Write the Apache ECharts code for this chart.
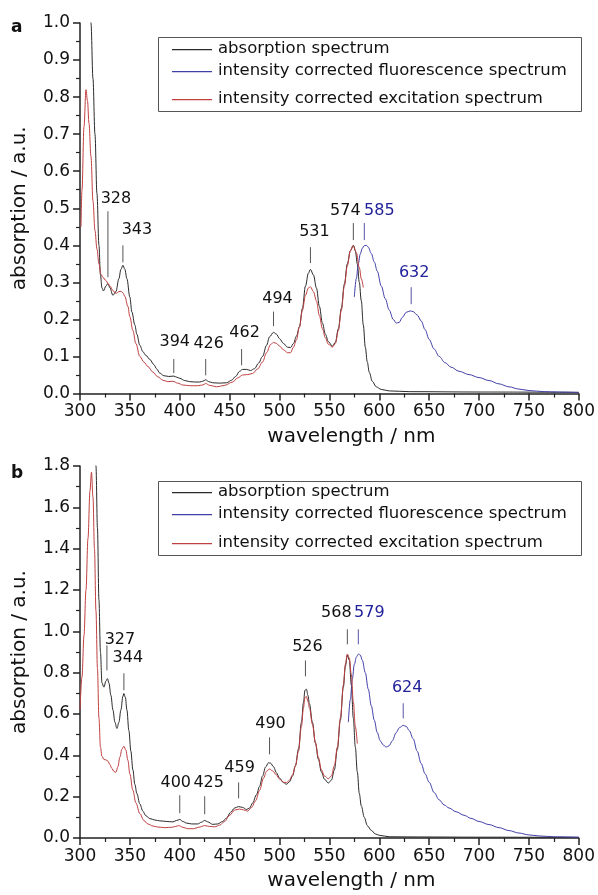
<!DOCTYPE html>
<html><head><meta charset="utf-8">
<script src="https://cdn.jsdelivr.net/npm/echarts@6/dist/echarts.min.js"></script>
<style>html,body{margin:0;padding:0;background:#fff}#c{width:598px;height:895px}</style>
</head><body><div id="c"></div><script>
// ---------- DATA ----------
const seriesNames = ['absorption spectrum', 'intensity corrected fluorescence spectrum', 'intensity corrected excitation spectrum'];
const xTicksMin = 300, xTicksMax = 800;

// Panel a
const absorptionA = [[310,1.15],[311,1.0],[313,0.85],[315,0.70],[317,0.54],[319,0.40],[320.5,0.32],[322,0.285],[323.5,0.277],[326,0.29],[328,0.297],[330,0.285],[333,0.265],[336,0.275],[339,0.31],[341,0.335],[343,0.346],[345,0.335],[347,0.31],[350,0.26],[352,0.22],[355,0.185],[357,0.16],[360,0.13],[363,0.113],[366,0.103],[370,0.092],[374,0.078],[377,0.066],[380,0.055],[384,0.048],[389,0.046],[394,0.047],[397,0.044],[400,0.041],[405,0.035],[410,0.032],[415,0.031],[420,0.031],[423,0.033],[426,0.037],[429,0.032],[433,0.029],[440,0.028],[447,0.029],[452,0.036],[456,0.046],[460,0.06],[463,0.065],[467,0.065],[471,0.062],[475,0.067],[479,0.082],[483,0.10],[487,0.13],[490,0.153],[494,0.165],[497,0.16],[500,0.148],[504,0.135],[508,0.125],[511,0.124],[514,0.135],[517,0.155],[520,0.18],[523,0.23],[526,0.29],[529,0.325],[531,0.335],[534,0.32],[537,0.285],[540,0.235],[543,0.19],[546,0.16],[549,0.14],[553,0.128],[556,0.138],[559,0.175],[562,0.23],[565,0.295],[568,0.35],[571,0.385],[574,0.40],[576,0.385],[578,0.35],[580,0.30],[582,0.25],[584,0.185],[586,0.125],[588,0.085],[590,0.057],[593,0.033],[597,0.018],[602,0.011],[610,0.007],[630,0.005],[700,0.004],[800,0.003]];
const fluorescenceA = [[575,0.26],[577,0.31],[579,0.35],[581,0.377],[583,0.392],[585,0.399],[587,0.40],[589,0.395],[592,0.378],[595,0.355],[598,0.33],[602,0.29],[606,0.256],[610,0.225],[614,0.2],[617,0.19],[620,0.192],[623,0.205],[627,0.219],[631,0.223],[634,0.221],[638,0.212],[642,0.196],[646,0.172],[650,0.146],[655,0.12],[660,0.1],[666,0.083],[672,0.071],[680,0.06],[690,0.051],[700,0.043],[710,0.035],[720,0.026],[730,0.018],[740,0.012],[750,0.008],[765,0.005],[780,0.004],[800,0.003]];
const excitationA = [[301,0.45],[302,0.55],[304,0.72],[306,0.82],[307.5,0.79],[309,0.73],[311,0.64],[313,0.52],[315,0.44],[317,0.39],[319,0.35],[321,0.322],[323,0.313],[326,0.305],[328,0.297],[330,0.29],[333,0.278],[336,0.27],[339,0.275],[341,0.276],[343,0.272],[345,0.262],[348,0.235],[350,0.207],[353,0.17],[356,0.135],[360,0.1],[364,0.085],[368,0.073],[373,0.058],[378,0.045],[383,0.036],[388,0.032],[393,0.033],[398,0.028],[403,0.023],[410,0.021],[418,0.021],[423,0.023],[426,0.027],[430,0.022],[437,0.018],[445,0.022],[453,0.031],[458,0.042],[463,0.05],[468,0.051],[473,0.054],[478,0.066],[483,0.085],[487,0.11],[491,0.132],[494,0.138],[497,0.135],[500,0.128],[504,0.118],[508,0.11],[511,0.11],[514,0.125],[517,0.145],[520,0.18],[523,0.225],[526,0.265],[529,0.285],[531,0.288],[534,0.275],[537,0.25],[540,0.21],[543,0.175],[546,0.15],[549,0.133],[553,0.125],[556,0.135],[559,0.17],[562,0.225],[565,0.29],[568,0.345],[571,0.385],[574,0.40],[577,0.38],[580,0.34],[582,0.31],[584,0.286]];
const peaksA = [328, 343, 394, 426, 462, 494, 531, 574, 585, 632];
const peakKindA = ['a','a','a','a','a','a','a','a','f','f'];
const tickLowA = [0.314, 0.354, 0.055, 0.049, 0.076, 0.182, 0.352, 0.414, 0.414, 0.241];
const tickHighA = [0.492, 0.400, 0.093, 0.093, 0.120, 0.221, 0.395, 0.460, 0.460, 0.287];

// Panel b
const absorptionB = [[315,1.95],[316,1.8],[317.5,1.5],[319,1.15],[320.5,0.9],[322,0.75],[324,0.73],[326,0.76],[327.5,0.771],[329,0.75],[331,0.69],[333,0.62],[335,0.56],[337,0.53],[339,0.56],[341,0.62],[343,0.685],[344,0.699],[345.5,0.68],[347,0.62],[349,0.52],[351,0.42],[353,0.33],[355,0.26],[357,0.215],[360,0.165],[363,0.13],[366,0.108],[370,0.094],[375,0.087],[380,0.083],[387,0.08],[393,0.078],[397,0.085],[400,0.09],[403,0.08],[407,0.072],[412,0.068],[418,0.068],[422,0.077],[425,0.085],[428,0.078],[433,0.066],[438,0.068],[443,0.08],[447,0.097],[451,0.125],[455,0.145],[459,0.152],[463,0.148],[467,0.138],[470,0.145],[473,0.169],[477,0.21],[480,0.25],[483,0.3],[486,0.343],[489,0.364],[491,0.362],[494,0.345],[497,0.315],[500,0.29],[504,0.268],[507,0.26],[510,0.272],[513,0.3],[516,0.35],[519,0.43],[522,0.56],[524,0.655],[525.5,0.715],[527,0.72],[528.5,0.69],[530,0.65],[533,0.56],[536,0.46],[539,0.38],[542,0.32],[545,0.285],[549,0.266],[552,0.28],[555,0.33],[558,0.43],[561,0.57],[564,0.73],[566,0.83],[568,0.885],[570,0.86],[572,0.74],[574,0.58],[576,0.44],[578,0.32],[580,0.215],[582,0.155],[585,0.1],[588,0.06],[592,0.037],[596,0.02],[600,0.013],[610,0.006],[640,0.005],[700,0.004],[800,0.003]];
const fluorescenceB = [[569,0.56],[571,0.67],[573,0.77],[575,0.84],[577,0.875],[579,0.89],[581,0.885],[583,0.86],[586,0.8],[589,0.72],[592,0.64],[595,0.57],[598,0.51],[601,0.47],[604,0.45],[607,0.44],[610,0.447],[613,0.47],[617,0.51],[620,0.533],[624,0.545],[627,0.54],[630,0.52],[634,0.48],[638,0.42],[642,0.36],[646,0.31],[650,0.27],[655,0.22],[660,0.185],[665,0.16],[670,0.145],[677,0.127],[685,0.11],[692,0.095],[700,0.08],[710,0.065],[720,0.05],[730,0.036],[740,0.024],[750,0.015],[760,0.01],[775,0.006],[800,0.004]];
const excitationB = [[300,0.62],[302,0.78],[304,0.98],[306,1.2],[308,1.45],[310,1.68],[311.5,1.77],[313,1.65],[314.5,1.4],[316,1.1],[317.5,0.82],[319,0.58],[320.5,0.44],[322,0.395],[324,0.38],[326,0.378],[328,0.372],[330,0.355],[332,0.336],[334,0.322],[336,0.318],[338,0.345],[340,0.392],[342,0.43],[344,0.444],[346,0.425],[348,0.376],[350,0.31],[353,0.231],[356,0.17],[360,0.118],[364,0.085],[368,0.068],[373,0.058],[378,0.053],[385,0.05],[392,0.052],[396,0.056],[399,0.06],[403,0.052],[408,0.045],[414,0.045],[419,0.052],[425,0.06],[430,0.056],[435,0.054],[440,0.062],[445,0.08],[450,0.11],[455,0.135],[460,0.14],[464,0.136],[468,0.13],[472,0.148],[476,0.18],[480,0.23],[484,0.29],[487,0.323],[490,0.334],[493,0.325],[497,0.305],[500,0.285],[504,0.27],[507,0.268],[510,0.28],[513,0.305],[516,0.35],[519,0.42],[522,0.54],[524,0.63],[525.5,0.68],[527,0.685],[528.5,0.66],[530,0.63],[533,0.55],[536,0.46],[539,0.39],[542,0.33],[545,0.3],[549,0.287],[552,0.3],[555,0.35],[558,0.44],[561,0.58],[564,0.74],[566,0.84],[568,0.89],[570,0.87],[572,0.79],[574,0.66],[576,0.54],[578,0.457]];
const peaksB = [327, 344, 400, 425, 459, 490, 526, 568, 579, 624];
const peakKindB = ['a','a','a','a','a','a','a','a','f','f'];
const tickLowB = [0.811, 0.715, 0.120, 0.115, 0.192, 0.405, 0.782, 0.937, 0.937, 0.579];
const tickHighB = [0.932, 0.797, 0.207, 0.202, 0.269, 0.487, 0.859, 1.010, 1.010, 0.652];

// ---------- STYLE (pixel offsets of peak labels relative to tick top) ----------
const labelShiftA = [[8,-12],[14,-15],[1,-17],[3,-15],[3,-16],[4,-13],[4,-15],[-8,-12],[15,-12],[3,-14]];
const labelShiftB = [[13,-6],[4,-15],[-4,-12],[4,-13],[1,-15],[1,-14],[2,-14],[-11,-16],[11,-16],[4,-15]];

const FONT = 'DejaVu Sans';
const C_ABS = '#2a2a2a', C_FLU = '#4040a8', C_EXC = '#c04040';
const seriesColors = [C_ABS, C_FLU, C_EXC];
const AX = '#222';

const chart = echarts.init(document.getElementById('c'), null, {renderer: 'canvas'});

function xAxisDef(gi) {
  return {
    gridIndex: gi, type: 'value', min: xTicksMin, max: xTicksMax, interval: 50,
    axisLine: {show: true, onZero: false, lineStyle: {color: AX, width: 1.5}},
    axisTick: {show: true, inside: false, length: 7, lineStyle: {color: AX, width: 1.5}},
    minorTick: {show: true, splitNumber: 2, length: 4, lineStyle: {color: AX, width: 1.2}},
    splitLine: {show: false}, minorSplitLine: {show: false},
    axisLabel: {fontFamily: FONT, fontSize: 17, color: '#111', margin: 10, hideOverlap: false},
    name: 'wavelength / nm', nameLocation: 'middle', nameGap: 33,
    nameTextStyle: {fontFamily: FONT, fontSize: 20, color: '#111', padding: [0, 0, 0, 44]}
  };
}
function yAxisDef(gi, max, interval) {
  return {
    gridIndex: gi, type: 'value', min: 0, max: max, interval: interval,
    axisLine: {show: true, onZero: false, lineStyle: {color: AX, width: 1.5}},
    axisTick: {show: true, inside: false, length: 7, lineStyle: {color: AX, width: 1.5}},
    minorTick: {show: true, splitNumber: 2, length: 4, lineStyle: {color: AX, width: 1.2}},
    splitLine: {show: false}, minorSplitLine: {show: false},
    axisLabel: {fontFamily: FONT, fontSize: 17, color: '#111', margin: 10, formatter: v => v.toFixed(1), hideOverlap: false},
    name: 'absorption / a.u.', nameLocation: 'middle', nameGap: 50,
    nameTextStyle: {fontFamily: FONT, fontSize: 20, color: '#111'}
  };
}
function lineSeries(name, data, color, gi, z) {
  return {
    name: name, type: 'line', data: data, xAxisIndex: gi, yAxisIndex: gi,
    symbol: 'none', showSymbol: false, smooth: 0.35, smoothMonotone: 'x',
    color: color,
    lineStyle: {color: color, width: 1}, itemStyle: {color: color}, z: z, clip: true, silent: true
  };
}
function annotSeries(gi, peaks, kinds, lows, highs, shifts) {
  return {
    type: 'custom', xAxisIndex: gi, yAxisIndex: gi, silent: true, clip: false, z: 10,
    data: peaks.map((p, i) => [p, lows[i], highs[i], i]),
    renderItem: function (params, api) {
      const i = api.value(3);
      const b = api.coord([api.value(0), api.value(1)]);
      const t = api.coord([api.value(0), api.value(2)]);
      const fl = kinds[i] === 'f';
      return {
        type: 'group', children: [
          {type: 'line', shape: {x1: b[0], y1: b[1], x2: t[0], y2: t[1]}, style: {stroke: fl ? '#5555a8' : '#555', lineWidth: 1}},
          {type: 'text', x: t[0] + shifts[i][0], y: t[1] + shifts[i][1],
           style: {text: String(peaks[i]), fill: fl ? '#22229a' : '#111', fontFamily: FONT, fontSize: 16, align: 'center', verticalAlign: 'middle'}}
        ]
      };
    }
  };
}
// legend drawn as graphic: box + sample line + text per row
function legendGraphic(boxTop, rowOffsets) {
  const els = [{type: 'rect', z: 100, shape: {x: 158.5, y: boxTop + 0.5, width: 423, height: 74}, style: {fill: 'none', stroke: '#555', lineWidth: 1}, silent: true}];
  rowOffsets.forEach((off, i) => {
    const y = boxTop + off;
    els.push({type: 'rect', z: 100, shape: {x: 172, y: y, width: 40, height: 1.3}, style: {fill: seriesColors[i], stroke: null}, silent: true});
    els.push({type: 'text', z: 100, x: 218, y: y, style: {text: seriesNames[i], fontFamily: FONT, fontSize: 16.5, fill: '#111', align: 'left', verticalAlign: 'middle'}, silent: true});
  });
  return els;
}

const option = {
  animation: false,
  backgroundColor: '#fff',
  grid: [
    {left: 80, right: 18, top: 23, height: 370.5},
    {left: 80, right: 18, top: 466, height: 372}
  ],
  xAxis: [xAxisDef(0), xAxisDef(1)],
  yAxis: [yAxisDef(0, 1.0, 0.1), yAxisDef(1, 1.8, 0.2)],
  graphic: [].concat(
    legendGraphic(37, [12, 34, 62]),
    legendGraphic(481, [11, 33, 62]),
    [
      {type: 'text', left: 11, top: 19, style: {text: 'a', fontFamily: FONT, fontSize: 17, fontWeight: 'bold', fill: '#111'}},
      {type: 'text', left: 11, top: 465, style: {text: 'b', fontFamily: FONT, fontSize: 17, fontWeight: 'bold', fill: '#111'}}
    ]
  ),
  series: [
    lineSeries(seriesNames[0], absorptionA, C_ABS, 0, 2),
    lineSeries(seriesNames[1], fluorescenceA, C_FLU, 0, 3),
    lineSeries(seriesNames[2], excitationA, C_EXC, 0, 4),
    annotSeries(0, peaksA, peakKindA, tickLowA, tickHighA, labelShiftA),
    lineSeries(seriesNames[0], absorptionB, C_ABS, 1, 2),
    lineSeries(seriesNames[1], fluorescenceB, C_FLU, 1, 3),
    lineSeries(seriesNames[2], excitationB, C_EXC, 1, 4),
    annotSeries(1, peaksB, peakKindB, tickLowB, tickHighB, labelShiftB)
  ]
};
chart.setOption(option);
</script></body></html>
